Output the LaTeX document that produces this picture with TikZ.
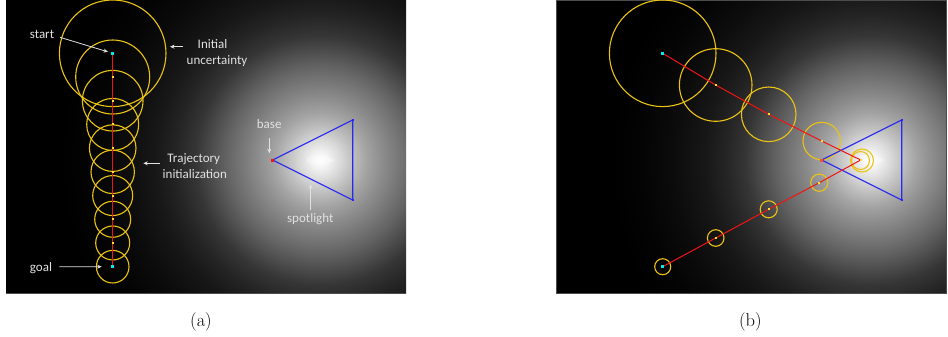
\documentclass[tikz,border=0pt]{standalone}
\usepackage{fontspec}
\newfontfamily\lblfont{Carlito}
\usetikzlibrary{arrows.meta,calc}
\definecolor{ucol}{RGB}{235,195,20}
\definecolor{tred}{RGB}{240,20,20}
\definecolor{tblue}{RGB}{40,40,240}
\definecolor{lgray}{RGB}{225,225,225}
\definecolor{cdot}{RGB}{0,235,235}
\definecolor{ydot}{RGB}{255,225,40}
\definecolor{odot}{RGB}{255,80,30}
\pgfdeclareradialshading{glow}{\pgfpoint{0bp}{0bp}}{color(0bp)=(white); color(0.8bp)=(white!95!black); color(2bp)=(white!85!black); color(3bp)=(white!76!black); color(4.5bp)=(white!64!black); color(6bp)=(white!55!black); color(7.5bp)=(white!47!black); color(9bp)=(white!39!black); color(10.5bp)=(white!30!black); color(12bp)=(white!21!black); color(14bp)=(white!14!black); color(16bp)=(white!9!black); color(19bp)=(white!4.5!black); color(22bp)=(white!1.5!black); color(25bp)=(black); color(50bp)=(black)}
\tikzset{
  traj/.style={draw=tred, line width=1pt},
  unc/.style={draw=ucol, line width=1.1pt},
  tri/.style={draw=tblue, line width=1.1pt},
  lbl/.style={font=\lblfont\fontsize{13}{16}\selectfont, text=lgray, inner sep=0pt, anchor=base},
  larr/.style={draw=lgray, line width=0.8pt, -{Stealth[length=4.5pt,width=4pt]}},
  captxt/.style={font=\fontsize{18.5}{22}\selectfont, inner sep=0pt},
  cyandot/.style={fill=cdot, rectangle, minimum size=2.6pt, inner sep=0pt},
  yeldot/.style={fill=ydot, rectangle, minimum size=2pt, inner sep=0pt},
  reddot/.style={fill=#1, rectangle, minimum size=3pt, inner sep=0pt},
  bluedot/.style={fill=tblue, rectangle, minimum size=2pt, inner sep=0pt},
}
\begin{document}
\begin{tikzpicture}[x=1pt,y=-1pt]
\useasboundingbox (0,0) rectangle (948,337);
\fill[white] (0,0) rectangle (948,337);
% ---------- panel (a) background ----------
\begin{scope}
  \clip (6,0) rectangle (406,293);
  \fill[black] (6,0) rectangle (406,293);
  \shade[shading=glow] (320,160) circle[radius=260pt];
  \fill[white,opacity=0.25] (320,160) ellipse[x radius=14pt, y radius=5pt];
  \fill[white,opacity=0.3] (322,160) ellipse[x radius=10pt, y radius=2.5pt];
\end{scope}
\draw[black!70, line width=0.8pt] (6,293) -- (406,293);
% ---------- panel (b) background ----------
\begin{scope}
  \clip (556,0) rectangle (946,293);
  \fill[black] (556,0) rectangle (946,293);
  \shade[shading=glow] (870,160) circle[radius=260pt];
  \fill[white,opacity=0.25] (870,160) ellipse[x radius=14pt, y radius=5pt];
  \fill[white,opacity=0.3] (872,160) ellipse[x radius=10pt, y radius=2.5pt];
\end{scope}
\draw[black!70, line width=0.8pt] (556,0.4) rectangle (946,293);

% ---------- panel (a) content ----------
\foreach \i/\r in {0/53.3,1/37,2/30.3,3/26,4/23.3,5/21.7,6/20,7/18,8/17,9/16.3} {
  \coordinate (a\i) at (112.7,{53.3+23.71*\i});
  \draw[unc] (a\i) circle[radius=\r pt];
}
\draw[traj] (a0) -- (a9);
\foreach \i in {1,...,8} {\node[yeldot] at (a\i) {};}
\node[cyandot] (astart) at (a0) {};
\node[cyandot] (agoal) at (a9) {};
% spotlight a
\coordinate (abase) at (272.7,160);
\coordinate (atop) at (352.7,120);
\coordinate (abot) at (352.7,200);
\draw[tri] (abase) -- (atop) -- (abot) -- cycle;
\node[bluedot] at (atop) {};
\node[bluedot] at (abot) {};
\node[reddot=tred] at (abase) {};
% labels a
\node[lbl] (lstart) at (42,38.3) {start};
\coordinate (lstartT) at (60,37.3);
\draw[larr, shorten >=5pt] (lstartT) -- (a0);
\node[lbl] (linit1) at (212.5,48.3) {Initial};
\node[lbl] (linit2) at (217,64.8) {uncertainty};
\coordinate (linitT) at (182.7,46.7);
\coordinate (linitH) at (170,46.7);
\draw[larr] (linitT) -- (linitH);
\node[lbl] (ltraj1) at (193.8,162) {Trajectory};
\node[lbl] (ltraj2) at (194.8,178) {initialization};
\coordinate (ltrajT) at (160,163.3);
\coordinate (ltrajH) at (143.3,163.3);
\draw[larr] (ltrajT) -- (ltrajH);
\node[lbl] (lgoal) at (41,271) {goal};
\coordinate (lgoalT) at (59.3,266.7);
\draw[larr, shorten >=11pt] (lgoalT) -- (a9);
\node[lbl] (lbase) at (269.2,128.3) {base};
\coordinate (lbaseT) at (269.3,138.3);
\coordinate (lbaseH) at (269.3,153.3);
\draw[larr] (lbaseT) -- (lbaseH);
\node[lbl] (lspot) at (310.3,222.7) {spotlight};
\coordinate (lspotT) at (310.7,210);
\coordinate (lspotH) at (310.7,184.3);
\draw[larr] (lspotT) -- (lspotH);

% ---------- panel (b) content ----------
\coordinate (b0) at (662.7,53.3);
\coordinate (b1) at (715.7,85);
\coordinate (b2) at (768.7,114.3);
\coordinate (b3) at (821.7,141);
\coordinate (b4) at (860.7,160);
\coordinate (b5) at (819.3,182.7);
\coordinate (b6) at (768.7,209.3);
\coordinate (b7) at (715.7,238);
\coordinate (b8) at (662.7,266.7);
\draw[unc] (b0) circle[radius=53.3pt];
\draw[unc] (b1) circle[radius=36.3pt];
\draw[unc] (b2) circle[radius=27.3pt];
\draw[unc] (b3) circle[radius=18.7pt];
\draw[unc] (862,160.5) circle[radius=11.5pt];
\draw[unc] (860.5,160.5) circle[radius=9pt];
\draw[unc] (b5) circle[radius=8.6pt];
\draw[unc] (b6) circle[radius=8.5pt];
\draw[unc] (b7) circle[radius=8.3pt];
\draw[unc] (b8) circle[radius=8pt];
\coordinate (bbase) at (821.7,160);
\coordinate (btop) at (901.7,120);
\coordinate (bbot) at (901.7,200);
\draw[tri] (bbase) -- (btop) -- (bbot) -- cycle;
\node[bluedot] at (btop) {};
\node[bluedot] at (bbot) {};
\draw[traj] (b0) -- (b1) -- (b2) -- (b3) -- (b4) -- (b5) -- (b6) -- (b7) -- (b8);
\foreach \i in {1,...,7} {\node[yeldot] at (b\i) {};}
\node[reddot=odot] at (bbase) {};
\node[cyandot] (bstart) at (b0) {};
\node[cyandot] (bgoal) at (b8) {};

% ---------- captions ----------
\node[captxt] (capa) at (201,321.5) {(a)};
\node[captxt] (capb) at (750.3,321.5) {(b)};
\end{tikzpicture}
\end{document}
